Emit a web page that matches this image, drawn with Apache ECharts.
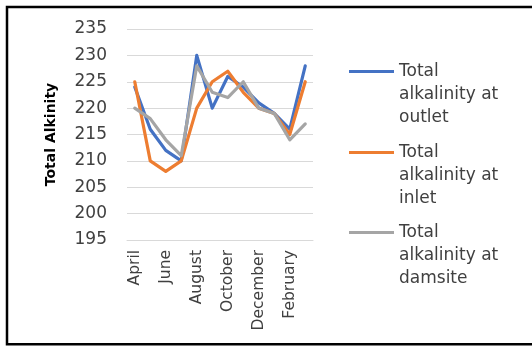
<!DOCTYPE html>
<html>
<head>
<meta charset="utf-8">
<script src="https://cdn.jsdelivr.net/npm/echarts@6/dist/echarts.min.js"></script>
<style>
  html, body { margin: 0; padding: 0; background: #ffffff; overflow: hidden; }
  #chart { width: 532px; height: 346px; }
</style>
</head>
<body>
<div id="chart"></div>
<script>
// Monthly total alkalinity at three sampling points
const months = ['April', 'May', 'June', 'July', 'August', 'September', 'October',
                'November', 'December', 'January', 'February', 'March'];
const outlet  = [224, 216, 212, 210, 230, 220, 226, 224, 221, 219, 216, 228];
const inlet   = [225, 210, 208, 210, 220, 225, 227, 223, 220, 219, 215, 225];
const damsite = [220, 218, 214, 211, 228, 223, 222, 225, 220, 219, 214, 217];
const seriesNames = [
  'Total alkalinity at outlet',
  'Total alkalinity at inlet',
  'Total alkalinity at damsite'
];
const seriesColors = ['#4472C4', '#ED7D31', '#A5A5A5'];
const seriesData = [outlet, inlet, damsite];

const FONT = 'DejaVu Sans';
const chart = echarts.init(document.getElementById('chart'), null, { renderer: 'canvas' });

// Legend label wraps after "Total" and "alkalinity at"; two leading blank
// lines put the key line level with the first visible line of text
function wrapName(name) {
  return '\n\n' + name.replace('Total ', 'Total\n').replace(' at ', ' at\n');
}

// One legend block per series
const legendTops = [14, 95, 175];
const legends = seriesNames.map((name, i) => ({
  data: [name],
  left: 349,
  top: legendTops[i],
  orient: 'vertical',
  padding: 0,
  icon: 'rect',
  itemWidth: 45,
  itemHeight: 3,
  formatter: wrapName,
  textStyle: {
    fontFamily: FONT,
    fontSize: 17,
    lineHeight: 23,
    color: '#404040'
  }
}));

chart.setOption({
  animation: false,
  backgroundColor: '#ffffff',
  // Frame on the top, left and bottom edges; it runs off the right side
  graphic: [{
    type: 'polyline',
    shape: { points: [[600, 7], [7, 7], [7, 344.3], [600, 344.3]] },
    style: { fill: null, stroke: '#000000', lineWidth: 2.5 },
    silent: true
  }],
  legend: legends,
  grid: { left: 127, right: 219, top: 29, bottom: 106 },
  xAxis: {
    type: 'category',
    data: months,
    boundaryGap: true,
    axisLine: { show: true, lineStyle: { color: '#d9d9d9', width: 1 } },
    axisTick: { show: false },
    axisLabel: {
      interval: 1,
      rotate: 90,
      margin: 10,
      fontFamily: FONT,
      fontSize: 15.5,
      color: '#404040'
    }
  },
  yAxis: {
    type: 'value',
    min: 195,
    max: 235,
    interval: 5,
    name: 'Total Alkinity',
    nameLocation: 'middle',
    nameRotate: 90,
    nameGap: 69,
    nameTextStyle: { fontFamily: FONT, fontSize: 14, fontWeight: 'bold', color: '#000000' },
    axisLine: { show: false },
    axisTick: { show: false },
    axisLabel: { margin: 20, fontFamily: FONT, fontSize: 17, color: '#404040' },
    splitLine: { lineStyle: { color: '#d9d9d9', width: 1 } }
  },
  series: seriesNames.map((name, i) => ({
    name: name,
    type: 'line',
    data: seriesData[i],
    symbol: 'none',
    smooth: false,
    color: seriesColors[i],
    lineStyle: { width: 3.2, color: seriesColors[i], cap: 'round', join: 'round' }
  }))
});
</script>
</body>
</html>
